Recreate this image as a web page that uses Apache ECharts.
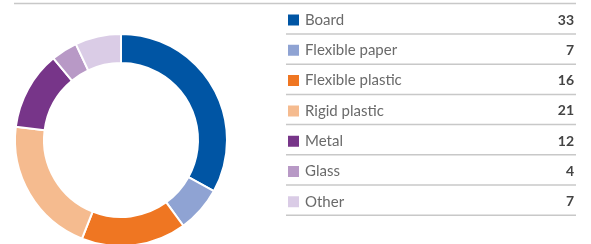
<!DOCTYPE html>
<html>
<head>
<meta charset="utf-8">
<script src="https://cdn.jsdelivr.net/npm/echarts@6/dist/echarts.min.js"></script>
<style>
  html, body { margin: 0; padding: 0; background: #fff; }
  #chart { width: 591px; height: 244px; }
</style>
</head>
<body>
<div id="chart"></div>
<script>
// 数据
var categories = ['Board', 'Flexible paper', 'Flexible plastic', 'Rigid plastic', 'Metal', 'Glass', 'Other'];
var values = [33, 7, 16, 21, 12, 4, 7];
var colors = ['#0055a4', '#8fa3d3', '#ef7622', '#f5bb8f', '#773589', '#b899c6', '#dacce6'];

var myChart = echarts.init(document.getElementById('chart'));

var pieData = categories.map(function (name, i) {
    return { name: name, value: values[i], itemStyle: { color: colors[i] } };
});

// 表格分隔线
var graphics = [{
    type: 'line',
    shape: { x1: 14, y1: 3.5, x2: 576, y2: 3.5 },
    style: { stroke: '#c8c8c8', lineWidth: 1.5 }
}];
for (var i = 0; i < categories.length; i++) {
    var y = 34 + i * 30.2;
    graphics.push({
        type: 'line',
        shape: { x1: 286, y1: y, x2: 576, y2: y },
        style: { stroke: '#c8c8c8', lineWidth: 1.5 }
    });
}

var option = {
    animation: false,
    graphic: graphics,
    legend: {
        orient: 'vertical',
        left: 286,
        top: 12,
        padding: 0,
        itemGap: 14.3,
        itemWidth: 13,
        itemHeight: 13,
        icon: 'rect',
        selectedMode: false,
        data: categories,
        formatter: function (name) {
            var idx = categories.indexOf(name);
            return '{n|' + name + '}{v|' + values[idx] + '}';
        },
        textStyle: {
            fontFamily: 'Lato',
            rich: {
                n: { width: 249, fontSize: 15, height: 16, lineHeight: 16, color: '#6a6a6a', fontFamily: 'Lato' },
                v: { width: 20, align: 'right', fontSize: 14, height: 16, lineHeight: 16, color: '#444', fontWeight: 'bold', fontFamily: 'Lato' }
            }
        }
    },
    series: [{
        type: 'pie',
        center: [121, 140],
        radius: [77, 106],
        startAngle: 90,
        clockwise: true,
        silent: true,
        label: { show: false },
        labelLine: { show: false },
        itemStyle: { borderColor: '#fff', borderWidth: 2 },
        data: pieData
    }]
};

myChart.setOption(option);
</script>
</body>
</html>
